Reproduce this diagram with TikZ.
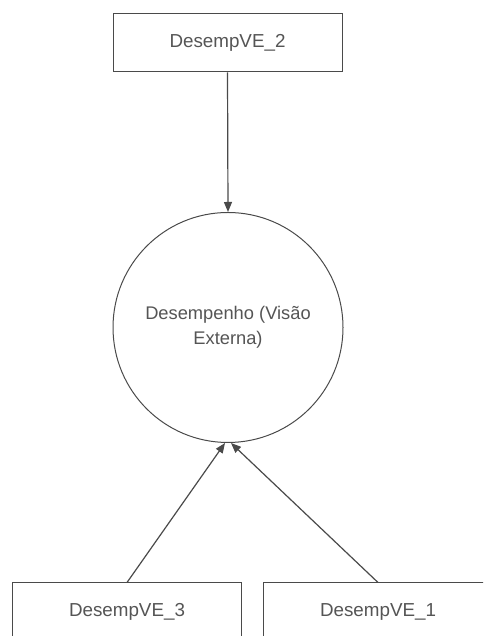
\documentclass[tikz,border=0pt]{standalone}
\usepackage{fontspec}
\setmainfont{Liberation Sans}
\usetikzlibrary{arrows.meta}
\definecolor{linec}{HTML}{4A4A4A}
\definecolor{textc}{HTML}{555555}
\tikzset{
  boxnode/.style={draw=linec, line width=1pt, fill=white, minimum width=229pt, minimum height=58pt, inner sep=0pt, text=textc, font=\fontsize{18.8}{22}\selectfont},
  circnode/.style={draw=linec, line width=1pt, circle, minimum size=230pt, inner sep=0pt, text=textc, align=center, font=\fontsize{18.3}{25}\selectfont},
  conn/.style={draw=linec, line width=1.2pt, -{Triangle[length=10pt,width=8pt]}}
}
\begin{document}
\begin{tikzpicture}[x=1pt,y=1pt]
\useasboundingbox (0,0) rectangle (483,636);
\clip (0,0) rectangle (483,636);
\fill[white] (0,0) rectangle (483,636);
\node[boxnode] (ve2) at (227.5,593) {DesempVE\_2};
\node[circnode] (c) at (228,308.5) {Desempenho (Visão\\Externa)};
\node[boxnode] (ve3) at (127,24) {DesempVE\_3};
\node[boxnode] (ve1) at (378,24) {DesempVE\_1};
\draw[conn] (ve2.south) -- (c.north);
\draw[conn] (ve3.north) -- ([xshift=-3pt]c.south);
\draw[conn] (ve1.north) -- ([xshift=3pt]c.south);
\end{tikzpicture}
\end{document}
